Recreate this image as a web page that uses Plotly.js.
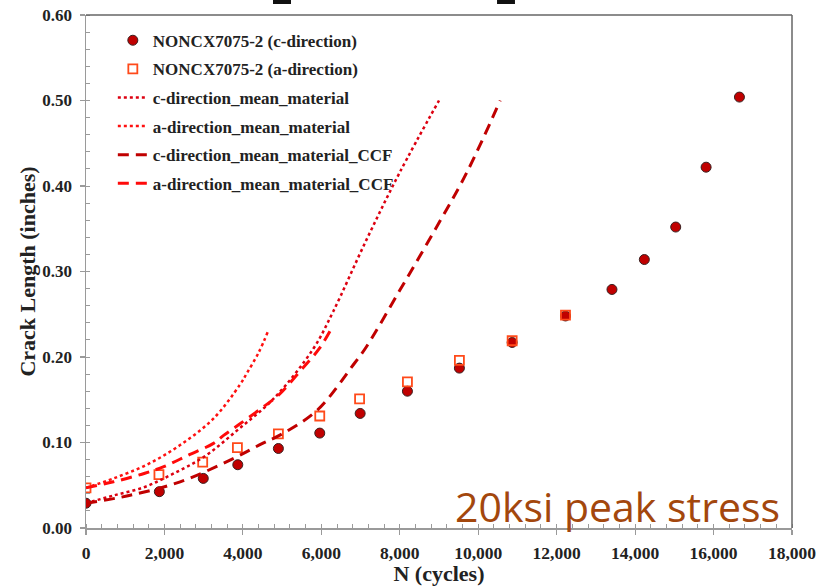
<!DOCTYPE html>
<html>
<head>
<meta charset="utf-8">
<script src="https://cdn.plot.ly/plotly-3.0.1.min.js"></script>
<style>html,body{margin:0;padding:0;background:#fff;}#chart{width:817px;height:586px;}</style>
</head>
<body>
<div id="chart"></div>
<script>
// measured data: c-direction (circles)
const cN   = [0, 1870, 2990, 3870, 4905, 5960, 6990, 8195, 9520, 10865, 12225, 13410, 14235, 15035, 15810, 16660];
const cLen = [0.029, 0.0425, 0.058, 0.074, 0.093, 0.111, 0.134, 0.160, 0.187, 0.217, 0.248, 0.279, 0.314, 0.352, 0.422, 0.504];
// a-direction (squares)
const aN   = [0, 1860, 2975, 3860, 4905, 5960, 6975, 8195, 9520, 10865, 12225];
const aLen = [0.047, 0.0625, 0.077, 0.094, 0.110, 0.131, 0.151, 0.171, 0.196, 0.219, 0.249];
// model curves
const cMeanN   = [0, 700, 1500, 2200, 3000, 3900, 4800, 5800, 6300, 7150, 8000, 9000];
const cMeanLen = [0.029, 0.038, 0.048, 0.063, 0.083, 0.116, 0.152, 0.210, 0.253, 0.337, 0.416, 0.500];
const aMeanN   = [0, 700, 1550, 2400, 3250, 3930, 4100, 4400, 4650];
const aMeanLen = [0.047, 0.058, 0.074, 0.097, 0.128, 0.168, 0.181, 0.205, 0.231];
const cCcfN    = [0, 1100, 2400, 3700, 4500, 5000, 5900, 6850, 7150, 8000, 8850, 9700, 10560];
const cCcfLen  = [0.029, 0.038, 0.054, 0.080, 0.099, 0.110, 0.138, 0.193, 0.212, 0.278, 0.345, 0.415, 0.500];
const aCcfN    = [0, 700, 1500, 2000, 2600, 3250, 3500, 3900, 4500, 4900, 5450, 5950, 6300];
const aCcfLen  = [0.047, 0.054, 0.064, 0.072, 0.085, 0.099, 0.108, 0.121, 0.141, 0.155, 0.183, 0.210, 0.237];

const names = ['NONCX7075-2 (c-direction)', 'NONCX7075-2 (a-direction)',
  'c-direction_mean_material', 'a-direction_mean_material',
  'c-direction_mean_material_CCF', 'a-direction_mean_material_CCF'];
const annotationText = '20ksi peak stress';

const traces = [
  {x: cN, y: cLen, name: names[0], mode: 'markers', type: 'scatter', legendgroup: 'g1',
   marker: {symbol: 'circle', size: 10, color: '#c00000', line: {color: '#3a2020', width: 1}}},
  {x: aN, y: aLen, name: names[1], mode: 'markers', type: 'scatter', legendgroup: 'g2',
   marker: {symbol: 'square-open', size: 9, color: '#ff4a1a', line: {color: '#ff4a1a', width: 1.8}}},
  {x: cMeanN, y: cMeanLen, name: names[2], mode: 'lines', type: 'scatter', legendgroup: 'g3',
   line: {color: '#dd0010', width: 2.5, dash: 'dot', shape: 'spline'}},
  {x: aMeanN, y: aMeanLen, name: names[3], mode: 'lines', type: 'scatter', legendgroup: 'g4',
   line: {color: '#ff1010', width: 2.5, dash: 'dot', shape: 'spline'}},
  {x: cCcfN, y: cCcfLen, name: names[4], mode: 'lines', type: 'scatter', legendgroup: 'g5',
   line: {color: '#c00000', width: 3, dash: '11px,7px', shape: 'spline'}},
  {x: aCcfN, y: aCcfLen, name: names[5], mode: 'lines', type: 'scatter', legendgroup: 'g6',
   line: {color: '#ff0a0a', width: 3, dash: '11px,7px', shape: 'spline'}}
];

const axisColor = '#9a9a9a';
const tickFontX = {family: 'Liberation Serif', size: 17.5, color: '#222', weight: 'bold'};
const tickFontY = {family: 'Liberation Serif', size: 17, color: '#222', weight: 'bold'};

const layout = {
  width: 817, height: 586,
  margin: {l: 86, r: 25, t: 15, b: 58},
  paper_bgcolor: '#fff', plot_bgcolor: '#fff',
  showlegend: true,
  legend: {x: 0.038, y: 0.985, xanchor: 'left', yanchor: 'top', bgcolor: 'rgba(0,0,0,0)',
           traceorder: 'grouped', tracegroupgap: 3.5,
           font: {family: 'Liberation Serif', size: 17, color: '#222', weight: 'bold'}},
  xaxis: {range: [0, 18000], dtick: 2000, tick0: 0, tickformat: ',d', showgrid: false, zeroline: false,
          showline: true, linecolor: axisColor, linewidth: 1.5,
          ticks: 'outside', ticklen: 5, tickcolor: axisColor, tickwidth: 1.2,
          minor: {dtick: 400, ticks: 'inside', ticklen: 4, tickcolor: axisColor, tickwidth: 1},
          tickfont: tickFontX, ticklabelstandoff: 3,
          title: {text: 'N (cycles)', standoff: 9,
                  font: {family: 'Liberation Serif', size: 22, color: '#222', weight: 'bold'}}},
  yaxis: {range: [0, 0.6], dtick: 0.1, tick0: 0, tickformat: '.2f', showgrid: false, zeroline: false,
          showline: true, linecolor: axisColor, linewidth: 1.5,
          ticks: 'outside', ticklen: 5, tickcolor: axisColor, tickwidth: 1.2,
          minor: {dtick: 0.02, ticks: 'inside', ticklen: 4, tickcolor: axisColor, tickwidth: 1},
          tickfont: tickFontY, ticklabelstandoff: 4,
          title: {text: 'Crack Length (inches)', standoff: 0,
                  font: {family: 'Liberation Serif', size: 22, color: '#222', weight: 'bold'}}},
  xaxis2: {overlaying: 'x', anchor: 'y', range: [0, 18000], dtick: 2000, tick0: 0, showgrid: false,
           zeroline: false, showline: false, ticks: 'inside', ticklen: 5, tickcolor: axisColor,
           tickwidth: 1.2, showticklabels: false, side: 'bottom'},
  yaxis2: {overlaying: 'y', anchor: 'x', range: [0, 0.6], dtick: 0.1, tick0: 0, showgrid: false,
           zeroline: false, showline: false, ticks: 'inside', ticklen: 5, tickcolor: axisColor,
           tickwidth: 1.2, showticklabels: false, side: 'left'},
  shapes: [
    {type: 'line', xref: 'paper', yref: 'paper', x0: 0, x1: 1, y0: 1, y1: 1, line: {color: '#666', width: 1.5}},
    {type: 'line', xref: 'paper', yref: 'paper', x0: 1, x1: 1, y0: 0, y1: 1, line: {color: '#666', width: 1.5}},
    {type: 'rect', xref: 'paper', yref: 'paper', x0: 0.2649, x1: 0.2904, y0: 1.0214, y1: 1.04,
     fillcolor: '#111', line: {width: 0}},
    {type: 'rect', xref: 'paper', yref: 'paper', x0: 0.5822, x1: 0.6076, y0: 1.0214, y1: 1.04,
     fillcolor: '#111', line: {width: 0}}
  ],
  annotations: [
    {text: annotationText, xref: 'paper', yref: 'paper', x: 0.52, y: -0.015,
     xanchor: 'left', yanchor: 'bottom', showarrow: false,
     font: {family: 'Open Sans', size: 41, color: '#a3470d'}}
  ]
};

Plotly.newPlot('chart', traces, layout, {displayModeBar: false, staticPlot: true});
</script>
</body>
</html>
